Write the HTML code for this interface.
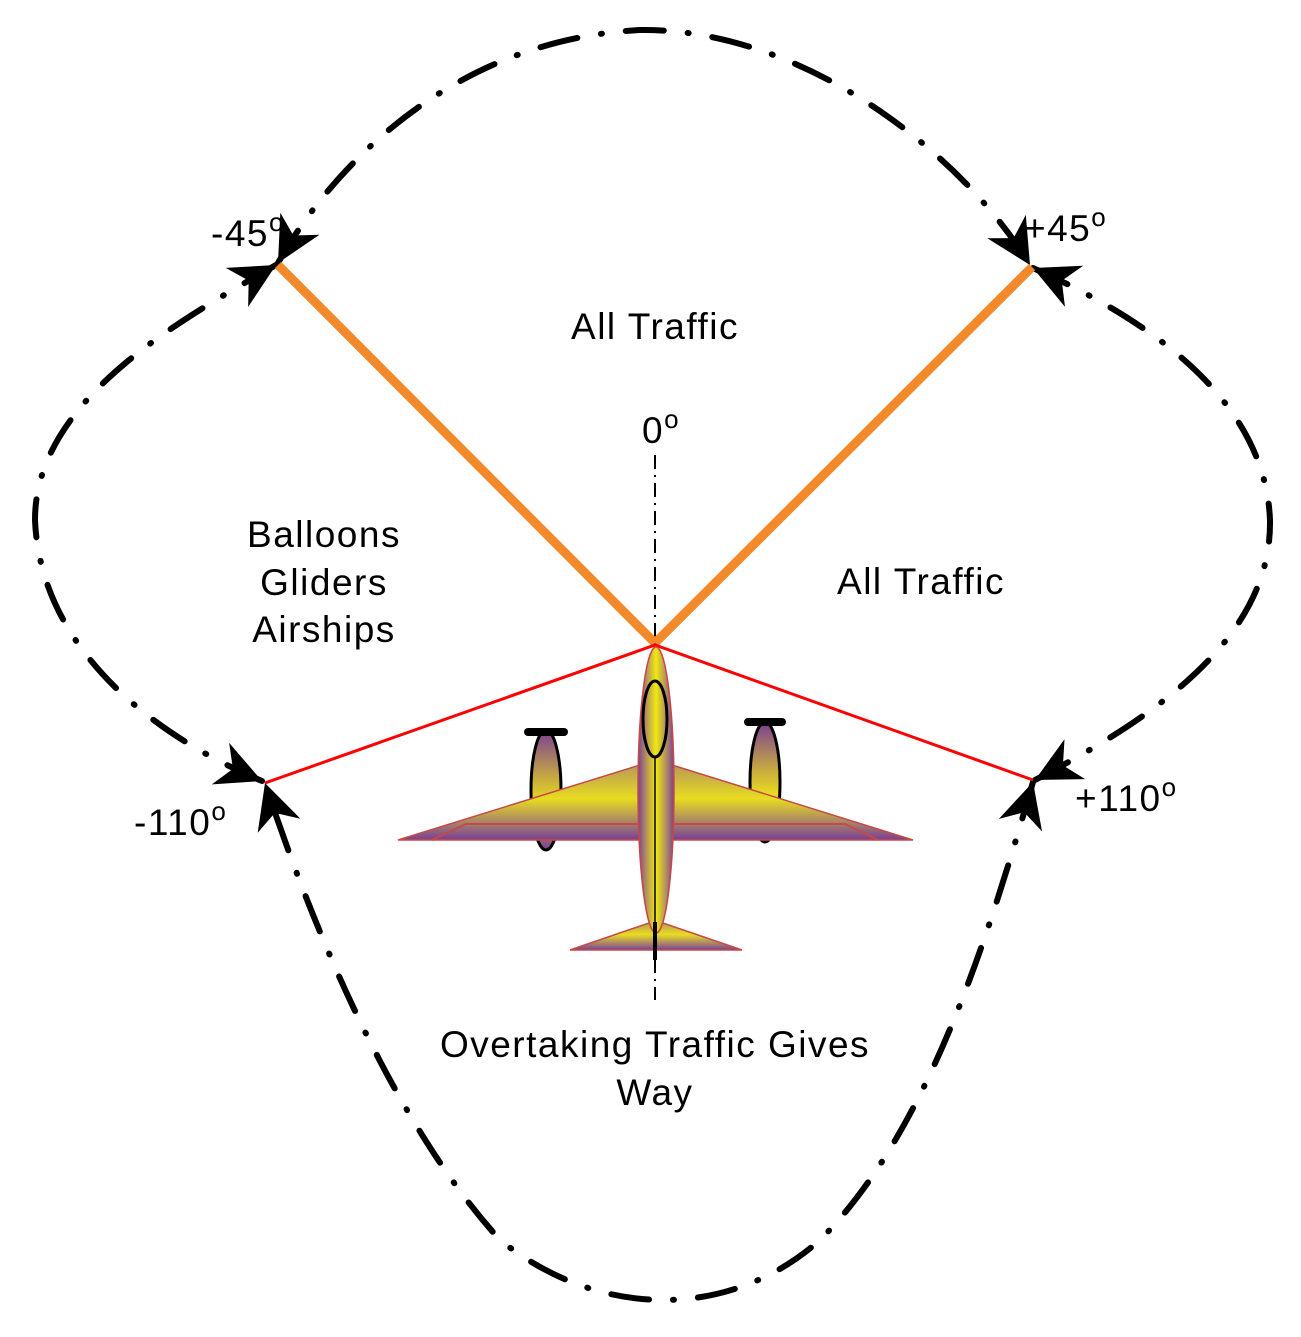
<!DOCTYPE html>
<html><head><style>body{margin:0;background:#fff}text{font-family:"Liberation Sans",Arial,sans-serif;fill:#000}</style></head>
<body>
<svg width="1301" height="1332" viewBox="0 0 1301 1332" xmlns="http://www.w3.org/2000/svg">
<defs>
<marker id="ar" viewBox="0 0 10 10" refX="10" refY="5" markerWidth="7.5" markerHeight="7.5" markerUnits="strokeWidth" orient="auto-start-reverse">
<path d="M0,0 L10,5 L0,10 L3,5 Z" fill="#000"/></marker>
<linearGradient id="g" x1="0" x2="1" y1="0" y2="0">
<stop offset="0" stop-color="#7a3f95"/><stop offset="0.25" stop-color="#b8985a"/><stop offset="0.5" stop-color="#f0e810"/><stop offset="0.75" stop-color="#b8985a"/><stop offset="1" stop-color="#7a3f95"/></linearGradient>
<linearGradient id="gv" x1="0" x2="0" y1="0" y2="1">
<stop offset="0" stop-color="#b8985a"/><stop offset="0.45" stop-color="#e8dc20"/><stop offset="0.8" stop-color="#a07a70"/><stop offset="1" stop-color="#7a3f95"/></linearGradient>
<linearGradient id="gn" x1="0" x2="0" y1="0" y2="1">
<stop offset="0" stop-color="#7a3f95"/><stop offset="0.4" stop-color="#c8aa40"/><stop offset="0.6" stop-color="#e8dc20"/><stop offset="1" stop-color="#7a3f95"/></linearGradient>
</defs>
<g fill="none" stroke="#000" stroke-width="6" stroke-linecap="round" stroke-dasharray="38 24 1 24" marker-start="url(#ar)" marker-end="url(#ar)">
<path d="M278,263 C330,170 450,40 640,30 C800,28 960,150 1030,265"/>
<path d="M1033,268 C1150,320 1265,400 1270,520 C1272,640 1150,720 1035,780"/>
<path d="M1033,782 C990,930 930,1130 820,1240 C730,1320 600,1320 500,1240 C400,1130 320,950 265,783"/>
<path d="M262,781 C140,730 40,640 35,520 C35,400 180,320 276,265"/>
</g>
<line x1="655" y1="455" x2="655" y2="1000" stroke="#000" stroke-width="2" stroke-dasharray="14 6 2 6"/>
<line x1="278" y1="265" x2="655" y2="643" stroke="#f28a2c" stroke-width="9"/>
<line x1="1032" y1="267" x2="655" y2="643" stroke="#f28a2c" stroke-width="9"/>
<polyline points="265,783 655,645 1033,780" fill="none" stroke="#f00" stroke-width="3"/>
<g stroke="#c84848" stroke-width="1.5">
<ellipse cx="546" cy="790" rx="15" ry="60" fill="url(#gn)" stroke="#000" stroke-width="3"/>
<ellipse cx="765" cy="782" rx="15" ry="60" fill="url(#gn)" stroke="#000" stroke-width="3"/>
<polygon points="398,840 640,765 672,765 913,840" fill="url(#gv)"/>
<polyline points="432,840 466,824 845,824 878,840" fill="none" stroke-width="2"/>
<polygon points="570,950 652,922 660,922 742,950" fill="url(#gv)"/>
<ellipse cx="656" cy="790" rx="18" ry="143" fill="url(#g)"/>
</g>
<line x1="528" y1="732" x2="564" y2="732" stroke="#000" stroke-width="8" stroke-linecap="round"/>
<line x1="748" y1="722" x2="782" y2="722" stroke="#000" stroke-width="8" stroke-linecap="round"/>
<ellipse cx="655" cy="719" rx="12" ry="38" fill="none" stroke="#000" stroke-width="3"/>
<line x1="655" y1="757" x2="655" y2="925" stroke="#000" stroke-width="1.5"/>
<line x1="655" y1="922" x2="655" y2="960" stroke="#000" stroke-width="4"/>
<g font-size="37" letter-spacing="1.5">
<text x="655" y="339" text-anchor="middle">All Traffic</text>
<text x="921" y="594" text-anchor="middle">All Traffic</text>
<text x="324" y="547" text-anchor="middle">Balloons</text>
<text x="324" y="595" text-anchor="middle">Gliders</text>
<text x="324" y="642" text-anchor="middle">Airships</text>
<text x="655" y="1057" text-anchor="middle">Overtaking Traffic Gives</text>
<text x="655" y="1105" text-anchor="middle">Way</text>
<text x="642" y="443">0<tspan font-size="26" dy="-15">o</tspan></text>
<text x="211" y="246">-45<tspan font-size="26" dy="-15">o</tspan></text>
<text x="1024" y="241">+45<tspan font-size="26" dy="-15">o</tspan></text>
<text x="1075" y="811">+110<tspan font-size="26" dy="-15">o</tspan></text>
<text x="134" y="835">-110<tspan font-size="26" dy="-15">o</tspan></text>
</g>
</svg>
</body></html>
